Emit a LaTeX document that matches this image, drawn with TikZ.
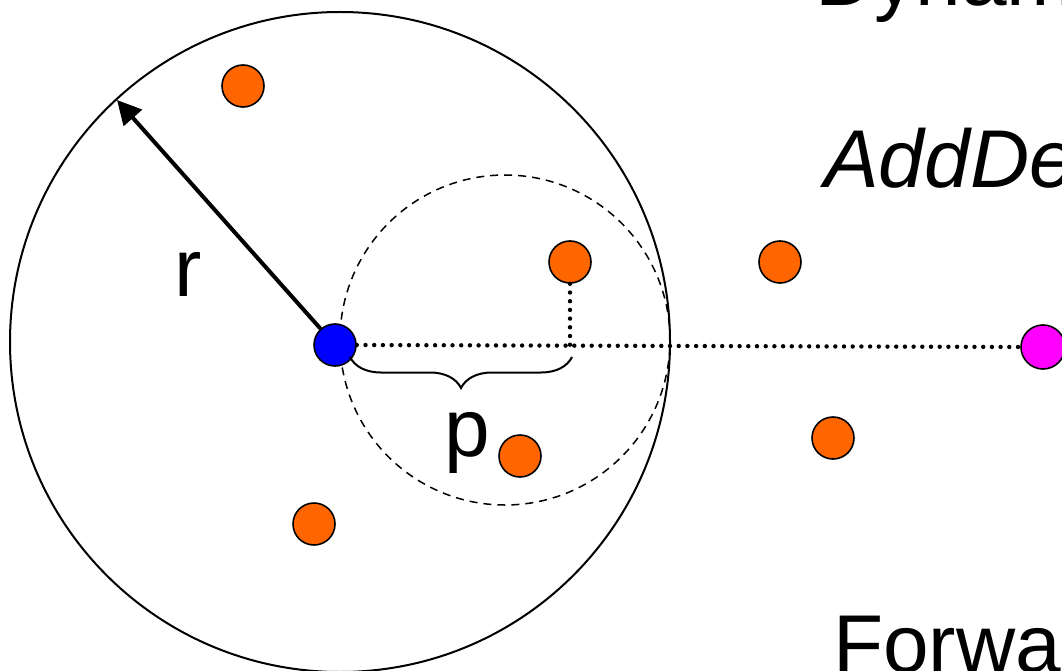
\documentclass[tikz,border=0pt]{standalone}
\usepackage{fontspec}
\setmainfont{Liberation Sans}
\usetikzlibrary{decorations.pathreplacing,arrows.meta}
\begin{document}
\begin{tikzpicture}[x=1pt,y=-1pt,
  pt/.style={circle,draw=black,line width=1.6pt,minimum size=42pt,inner sep=0pt},
  orangept/.style={pt,fill=orange1},
  dotline/.style={line width=4.4pt,dash pattern=on 0pt off 8.7pt,line cap=round},
  bigtext/.style={anchor=base west,inner sep=0pt,font=\fontsize{82}{98}\selectfont},
]
\definecolor{orange1}{RGB}{255,102,0}
\definecolor{blue1}{RGB}{0,0,255}
\definecolor{magenta1}{RGB}{255,0,255}
\useasboundingbox (0,0) rectangle (1062,671);
\clip (0,0) rectangle (1062,671);

% circles
\draw[line width=2pt] (340,342) circle (330pt);
\draw[line width=1.5pt,dash pattern=on 8pt off 6pt] (505,340) circle (165pt);

% points
\node[pt,fill=blue1] (b) at (335,345) {};
\node[pt,fill=magenta1,minimum size=44pt] (m) at (1043,347) {};
\node[orangept] (o1) at (243,86) {};
\node[orangept] (o2) at (570,262) {};
\node[orangept] (o3) at (780,262) {};
\node[orangept] (o4) at (520,456) {};
\node[orangept] (o5) at (833,438) {};
\node[orangept] (o6) at (314,524) {};

% radius arrow
\coordinate (tip) at (117,100);
\draw[line width=4pt,-{Triangle[length=24pt,width=24pt]}] (b) -- (tip);

% dotted lines
\draw[dotline] (b.east) -- (m.west);
\draw[dotline] (o2.south) -- (o2 |- m);

% brace
\coordinate (bl) at (350,357);
\coordinate (br) at (572,357);
\draw[line width=2pt,decorate,decoration={brace,mirror,amplitude=31pt}] (bl) -- (br);

% labels
\node[bigtext] (r) at (174,296) {r};
\node[bigtext] (p) at (444,456) {p};
\node[bigtext] (t1) at (815,6) {Dynam};
\node[bigtext] (t2) at (824,187) {\itshape AddDe};
\node[bigtext] (t3) at (833,672) {Forwa};
\end{tikzpicture}
\end{document}
